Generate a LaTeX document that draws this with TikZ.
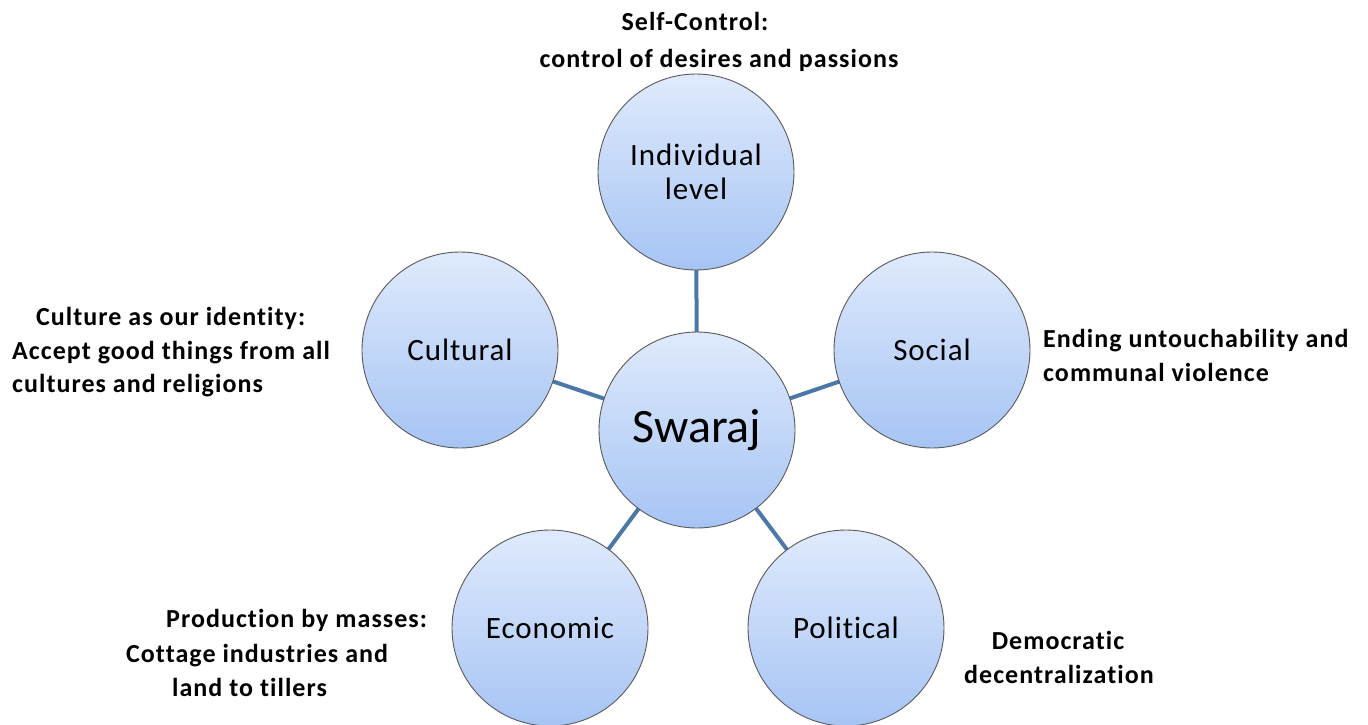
\documentclass[tikz,border=0pt]{standalone}
\usepackage{fontspec}
\setmainfont{Carlito}[Ligatures=NoCommon]
\definecolor{ctop}{HTML}{DFEAFC}
\definecolor{cbot}{HTML}{A6C4F4}
\definecolor{edge}{HTML}{4C78A8}
\definecolor{rim}{HTML}{5A5A5A}
\tikzset{
  bubble/.style={circle, minimum size=196pt, inner sep=0pt, draw=rim, line width=0.9pt,
    top color=ctop, bottom color=cbot, font=\fontsize{31}{34}\selectfont\addfontfeature{LetterSpace=3}, align=center},
  link/.style={draw=edge, line width=4pt},
  note/.style={font=\bfseries\fontsize{26}{30}\selectfont\addfontfeature{LetterSpace=4}, inner sep=0pt, anchor=base}
}
\begin{document}
\begin{tikzpicture}[x=1pt,y=-1pt]
\useasboundingbox[fill=white] (0,0) rectangle (1368,724);
\coordinate (cS) at (697,430);
\coordinate (cI) at (696,172);
\coordinate (cC) at (460,350);
\coordinate (cSo) at (932,350);
\coordinate (cE) at (550,628);
\coordinate (cP) at (846,628);
\draw[link] (cS) -- (cI);
\draw[link] (cS) -- (cC);
\draw[link] (cS) -- (cSo);
\draw[link] (cS) -- (cE);
\draw[link] (cS) -- (cP);
\node[bubble] (ind) at (cI) {Individual\\[0pt]level};
\node[bubble] (cul) at (cC) {Cultural};
\node[bubble] (soc) at (cSo) {Social};
\node[bubble] (eco) at (cE) {Economic};
\node[bubble] (pol) at (cP) {Political};
\node[bubble, font=\fontsize{48}{52}\selectfont] (swa) at (cS) {Swaraj};
\node[note] (n1a) at (695,30) {Self-Control:};
\node[note] (n1b) at (719,67) {control of desires and passions};
\node[note, anchor=base west] (n2a) at (36,325) {Culture as our identity:};
\node[note, anchor=base west] (n2b) at (12,359) {Accept good things from all};
\node[note, anchor=base west] (n2c) at (12,392) {cultures and religions};
\node[note, anchor=base west] (n3a) at (1043,347) {Ending untouchability and};
\node[note, anchor=base west] (n3b) at (1043,381) {communal violence};
\node[note, anchor=base west] (n4a) at (166,627) {Production by masses:};
\node[note, anchor=base west] (n4b) at (126,662) {Cottage industries and};
\node[note, anchor=base west] (n4c) at (172,696) {land to tillers};
\node[note] (n5a) at (1058,649) {Democratic};
\node[note] (n5b) at (1059,683) {decentralization};
\end{tikzpicture}
\end{document}
